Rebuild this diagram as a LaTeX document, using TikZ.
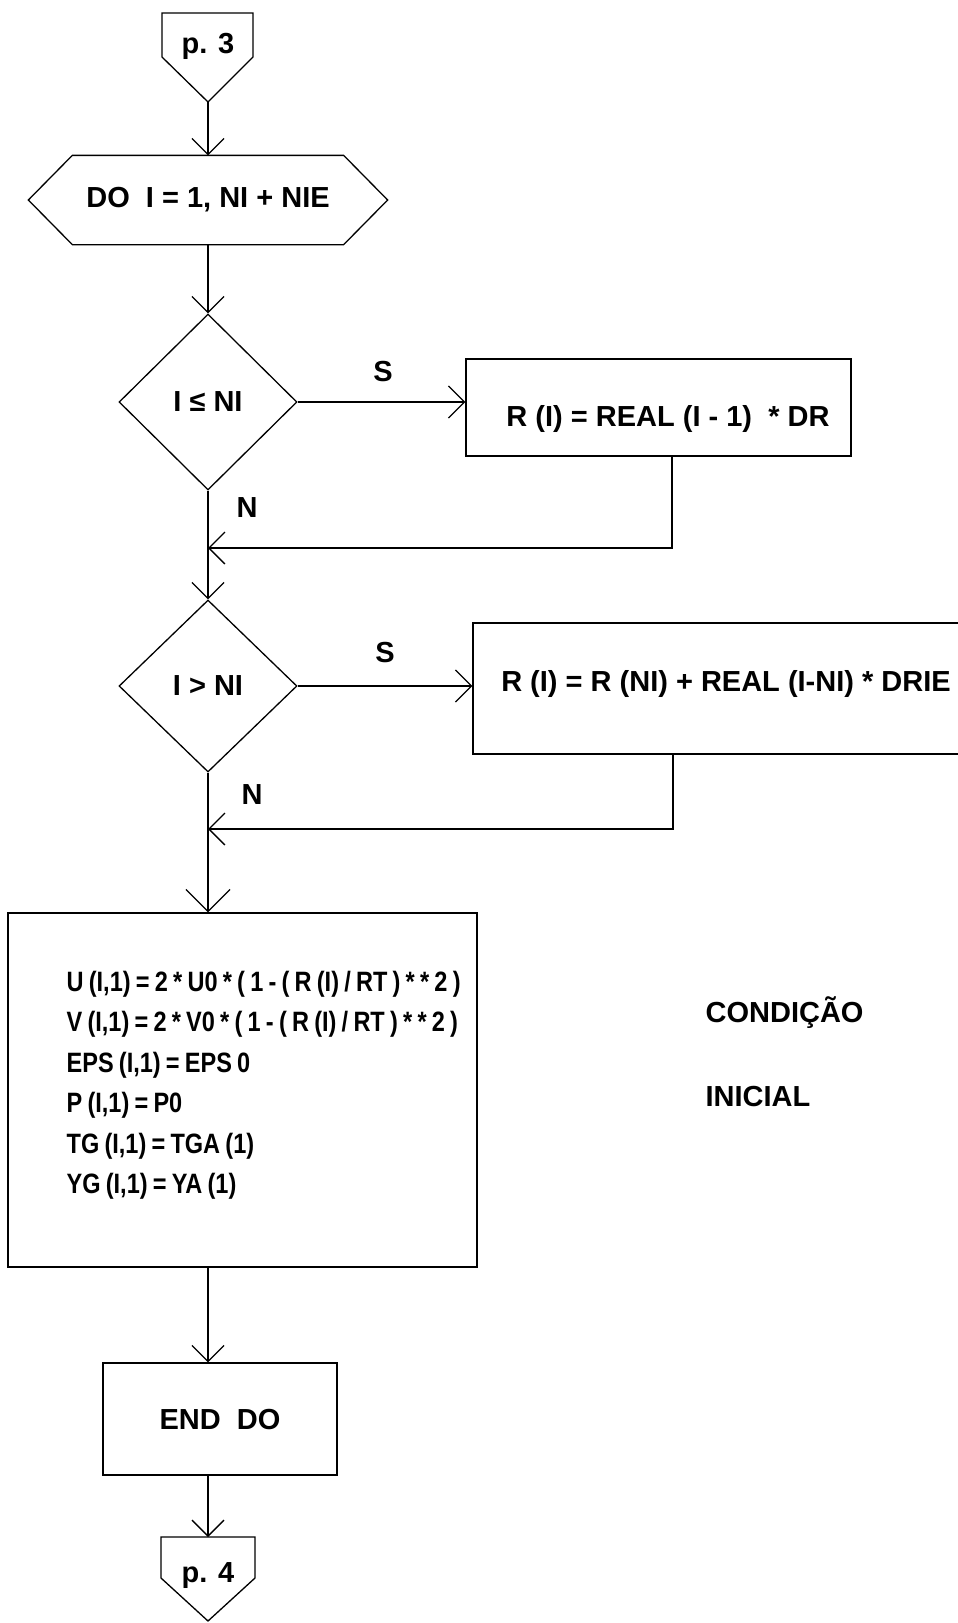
\documentclass[tikz,border=0pt]{standalone}
\usepackage{fontspec}
\setmainfont{Liberation Sans}
\newfontfamily\condfont[FakeStretch=0.84,WordSpace=0.8]{Liberation Sans}
\usetikzlibrary{arrows.meta,shapes.geometric}
\begin{document}
\begin{tikzpicture}[x=1pt,y=-1pt,line width=1.3pt,
  txt/.style={font=\fontsize{29}{34}\selectfont\bfseries, inner sep=0pt},
  box/.style={draw, rectangle, inner sep=0pt},
  dec/.style={draw, diamond, inner sep=0pt, minimum width=178pt, minimum height=176pt, font=\fontsize{29}{34}\selectfont\bfseries},
  arr/.style={-{Straight Barb[length=16pt,width=32pt]}},
  bigarr/.style={-{Straight Barb[length=22pt,width=44pt]}}]
\clip (0,0) rectangle (958,1623);
\fill[white] (0,0) rectangle (958,1623);

% off-page connector p. 3
\node[txt, anchor=base] (p3) at (208,53) {p. 3};
\coordinate (p3tip) at (208,102);
\draw (162,13) -- (253,13) -- (253,57) -- (p3tip) -- (162,57) -- cycle;

% DO loop hexagon
\node[txt, minimum width=358pt, minimum height=88pt] (hex) at (208,200) {DO~~I = 1, NI + NIE};
\draw (hex.west) -- ([xshift=44pt]hex.north west) -- ([xshift=-44pt]hex.north east) -- (hex.east)
  -- ([xshift=-44pt]hex.south east) -- ([xshift=44pt]hex.south west) -- cycle;
\draw[arr] (p3tip) -- (hex.north);

% first decision
\node[dec] (d1) at (208,402) {I ≤ NI};
\draw[arr] (hex.south) -- (d1.north);
\node[box, minimum width=385pt, minimum height=97pt] (b1) at (658.5,407.5) {};
\node[txt] (b1t) at (668,419) {R (I) = REAL (I - 1)~~* DR};
\draw[arr] (d1.east) -- (d1.east -| b1.west);
\node[txt] (s1) at (383,372) {S};
\node[txt] (n1) at (247,508) {N};
\coordinate (m1) at (672,548);
\coordinate (j1) at (208,548);
\draw[arr] (b1.south -| m1) -- (m1) -- (j1);

% second decision
\node[dec, minimum height=172pt] (d2) at (208,686) {I > NI};
\draw[arr] (d1.south) -- (d2.north);
\node[box, minimum width=517pt, minimum height=131pt] (b2) at (731.5,688.5) {};
\node[txt] (b2t) at (726,684) {R (I) = R (NI) + REAL (I-NI) * DRIE};
\draw[arr] (d2.east) -- (d2.east -| b2.west);
\node[txt] (s2) at (385,653) {S};
\node[txt] (n2) at (252,795) {N};
\coordinate (m2) at (673,829);
\coordinate (j2) at (208,829);
\draw[arr] (b2.south -| m2) -- (m2) -- (j2);

% initial condition box
\node[box, minimum width=469pt, minimum height=354pt] (big) at (242.5,1090) {};
\draw[bigarr] (d2.south) -- (d2.south |- big.north);
\node[inner sep=0pt, anchor=west, align=left, font=\condfont\fontsize{28}{40.5}\selectfont\bfseries] (bigt) at (66,1085)
  {U (I,1) = 2 * U0 * ( 1 - ( R (I) / RT ) * * 2 )\\
   V (I,1) = 2 * V0 * ( 1 - ( R (I) / RT ) * * 2 )\\
   EPS (I,1) = EPS 0\\
   P (I,1) = P0\\
   TG (I,1) = TGA (1)\\
   YG (I,1) = YA (1)};
\node[txt, anchor=west] (c1) at (705,1013) {CONDIÇÃO};
\node[txt, anchor=west] (c2) at (705,1097) {INICIAL};

% END DO
\node[box, txt, draw, minimum width=234pt, minimum height=112pt] (ed) at (220,1419) {END~~DO};
\draw[arr] (d2.south |- big.south) -- (d2.south |- ed.north);

% off-page connector p. 4
\node[txt, anchor=base] (p4) at (208,1582) {p. 4};
\coordinate (p4top) at (208,1537);
\coordinate (p4tip) at (208,1621);
\draw (161,1537) -- (255,1537) -- (255,1578) -- (p4tip) -- (161,1578) -- cycle;
\draw[arr] (d2.south |- ed.south) -- (p4top);
\end{tikzpicture}
\end{document}
